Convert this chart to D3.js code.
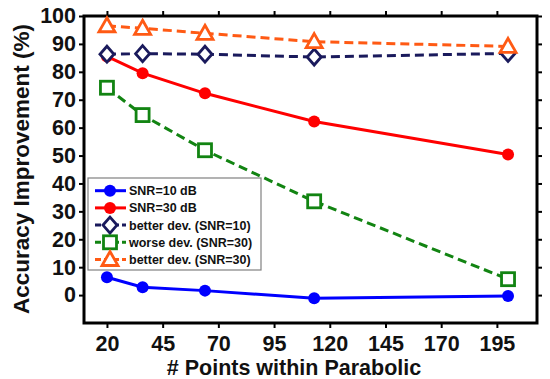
<!DOCTYPE html>
<html><head><meta charset="utf-8">
<script src="https://cdn.jsdelivr.net/npm/d3@7"></script>
<style>body{margin:0;background:#fff}svg{display:block}text{font-family:"Liberation Sans",Arial,Helvetica,sans-serif;font-weight:bold}</style>
</head><body>
<svg id="c" width="550" height="379"></svg>
<script>
const xValues = [20, 36, 64, 113, 200];
const snr10 = [6.4, 2.8, 1.6, -1.1, -0.3];
const snr30 = [85.5, 79.5, 72.3, 62.2, 50.4];
const betterDev10 = [86.3, 86.5, 86.3, 85.3, 86.6];
const worseDev30 = [74.3, 64.5, 51.9, 33.6, 5.7];
const betterDev30 = [96.5, 95.6, 93.8, 90.8, 89.1];
const xTicks = [20, 45, 70, 95, 120, 145, 170, 195];
const yTicks = [0, 10, 20, 30, 40, 50, 60, 70, 80, 90, 100];
const seriesNames = ["SNR=10 dB", "SNR=30 dB", "better dev. (SNR=10)", "worse dev. (SNR=30)", "better dev. (SNR=30)"];

const series = [
  {name: seriesNames[0], vals: snr10, color: "#0000ff", dash: null, marker: "circle"},
  {name: seriesNames[1], vals: snr30, color: "#ff0000", dash: null, marker: "circle"},
  {name: seriesNames[2], vals: betterDev10, color: "#1a1a5c", dash: "9,5", marker: "diamond"},
  {name: seriesNames[3], vals: worseDev30, color: "#128412", dash: "9,5", marker: "square"},
  {name: seriesNames[4], vals: betterDev30, color: "#ff5a14", dash: "9,5", marker: "triangle"}
];

const svg = d3.select("#c");
const L = 84, R = 537, T = 16, B = 323;
const x = d3.scaleLinear().domain([9.7, 213]).range([L, R]);
const y = d3.scaleLinear().domain([-10, 100]).range([B, T]);
const font = "Liberation Sans, Arial, Helvetica, sans-serif";

function styleAxis(g){
  g.selectAll(".domain").remove();
  g.selectAll(".tick line").attr("stroke", "#000").attr("stroke-width", 2);
  g.selectAll(".tick text").attr("font-family", font).attr("font-weight", "bold").attr("font-size", 21.5).attr("fill", "#111");
}
svg.append("g").attr("transform", `translate(0,${B})`)
  .call(d3.axisBottom(x).tickValues(xTicks).tickSize(5).tickPadding(8))
  .call(styleAxis);
svg.append("g").attr("transform", `translate(0,${T})`)
  .call(d3.axisTop(x).tickValues(xTicks).tickSize(5).tickFormat(""))
  .call(styleAxis);
svg.append("g").attr("transform", `translate(${L},0)`)
  .call(d3.axisLeft(y).tickValues(yTicks).tickSize(5).tickPadding(3))
  .call(styleAxis);
svg.append("g").attr("transform", `translate(${R},0)`)
  .call(d3.axisRight(y).tickValues(yTicks).tickSize(5).tickFormat(""))
  .call(styleAxis);
svg.append("rect").attr("x", L).attr("y", T).attr("width", R - L).attr("height", B - T)
  .attr("fill", "none").attr("stroke", "#000").attr("stroke-width", 3);

function drawMarker(g, m, color, cx, cy){
  if (m === "circle") g.append("circle").attr("cx", cx).attr("cy", cy).attr("r", 6).attr("fill", color);
  else if (m === "diamond") g.append("path").attr("d", `M${cx},${cy-8}L${cx+7},${cy}L${cx},${cy+8}L${cx-7},${cy}Z`)
    .attr("fill", "#fff").attr("stroke", color).attr("stroke-width", 2.8);
  else if (m === "square") g.append("rect").attr("x", cx-6.5).attr("y", cy-6.5).attr("width", 13).attr("height", 13)
    .attr("fill", "#fff").attr("stroke", color).attr("stroke-width", 2.8);
  else if (m === "triangle") g.append("path").attr("d", `M${cx},${cy-8}L${cx+8},${cy+6}L${cx-8},${cy+6}Z`)
    .attr("fill", "#fff").attr("stroke", color).attr("stroke-width", 2.8);
}

const line = d3.line().x(d => x(d[0])).y(d => y(d[1]));
series.forEach(s => {
  const pts = xValues.map((v, i) => [v, s.vals[i]]);
  const g = svg.append("g");
  g.append("path").attr("d", line(pts)).attr("fill", "none").attr("stroke", s.color)
    .attr("stroke-width", 3).attr("stroke-dasharray", s.dash);
  pts.forEach(p => drawMarker(g, s.marker, s.color, x(p[0]), y(p[1])));
});

// legend
const lg = svg.append("g");
lg.append("rect").attr("x", 88).attr("y", 178).attr("width", 173).attr("height", 92)
  .attr("fill", "#fff").attr("stroke", "#808080").attr("stroke-width", 1.2);
series.forEach((s, i) => {
  const cy = 190.7 + i * 17.2;
  lg.append("line").attr("x1", 95).attr("x2", 126).attr("y1", cy).attr("y2", cy)
    .attr("stroke", s.color).attr("stroke-width", 3).attr("stroke-dasharray", s.dash ? "6,3" : null);
  drawMarker(lg, s.marker, s.color, 110, cy);
  lg.append("text").attr("x", 129).attr("y", cy + 4.5).text(s.name)
    .attr("font-family", font).attr("font-weight", "bold").attr("font-size", 12.5).attr("fill", "#111");
});

svg.append("text").attr("x", 294).attr("y", 375).attr("text-anchor", "middle")
  .attr("font-family", font).attr("font-weight", "bold").attr("font-size", 21.5).attr("fill", "#111")
  .text("# Points within Parabolic");
svg.append("text").attr("transform", "translate(29,169) rotate(-90)").attr("text-anchor", "middle")
  .attr("font-family", font).attr("font-weight", "bold").attr("font-size", 22.5).attr("fill", "#111")
  .text("Accuracy Improvement (%)");
</script>
</body></html>
